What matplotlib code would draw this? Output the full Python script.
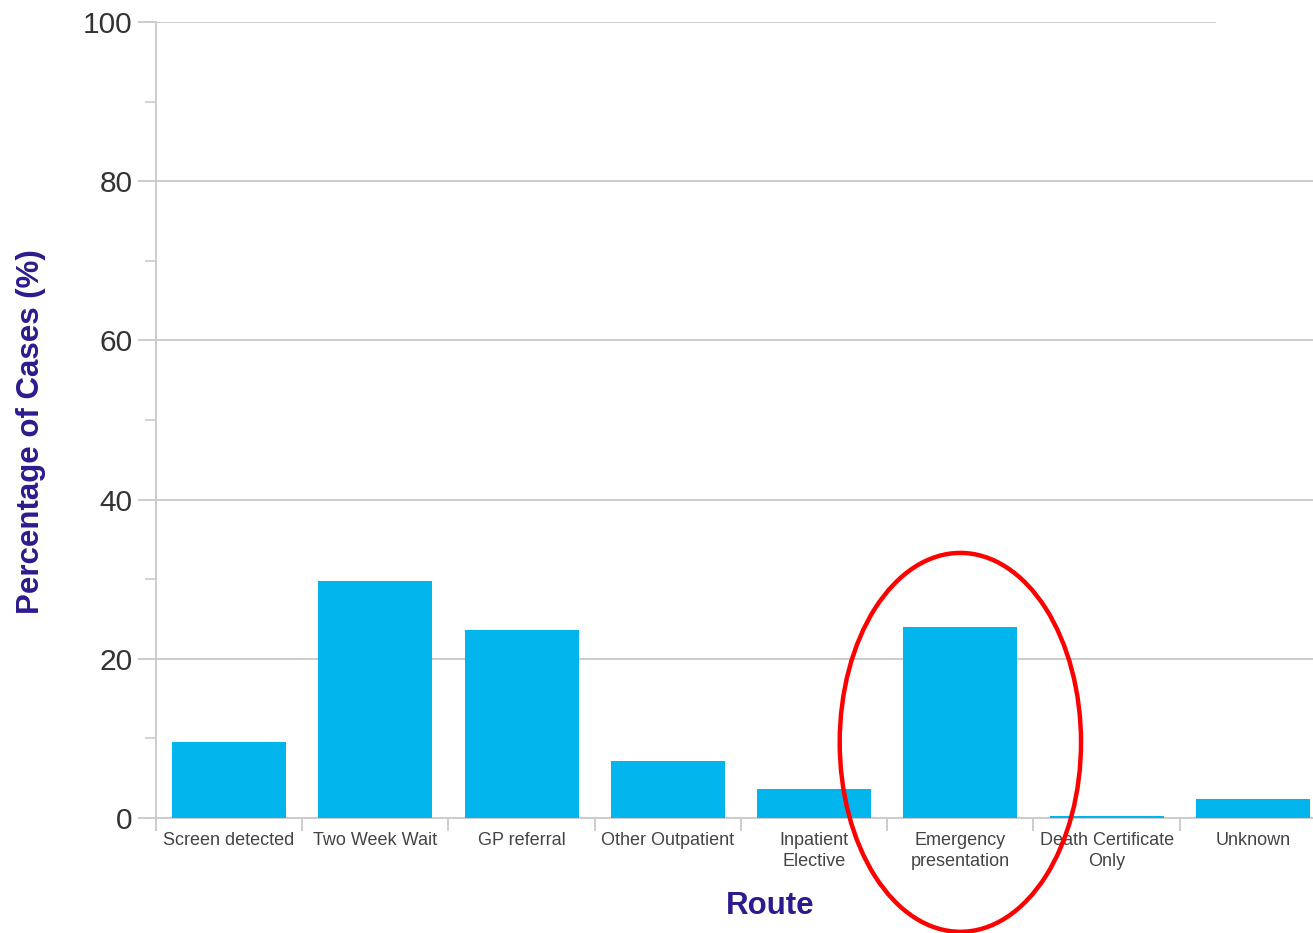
import numpy as np
import matplotlib
matplotlib.use("Agg")
from matplotlib import pyplot as plt
from matplotlib.patches import Ellipse, Rectangle

routes = ["Screen detected", "Two Week Wait", "GP referral", "Other Outpatient",
          "Inpatient\nElective", "Emergency\npresentation", "Death Certificate\nOnly",
          "Unknown"]
pct_cases = [9.5, 29.8, 23.6, 7.2, 3.6, 24.0, 0.3, 2.4]

plt.rcParams["font.family"] = ["Liberation Sans", "DejaVu Sans"]

fig = plt.figure(figsize=(13.13, 9.33), dpi=100)
ax = fig.add_axes([0.1188, 0.1233, 0.8911, 0.8531])

x = np.arange(len(routes))
ax.bar(x, pct_cases, width=0.78, color="#02b5ec", zorder=3)

ax.set_xlim(-0.5, len(routes) - 0.5)
ax.set_ylim(0, 100)

# y axis: labelled majors with grid, unlabelled minors
ax.set_yticks(np.arange(0, 101, 20))
ax.set_yticks(np.arange(10, 100, 20), minor=True)
ax.grid(axis="y", which="major", color="#cccccc", linewidth=1.4, zorder=0)
ax.tick_params(axis="y", which="major", length=13, width=1.4, color="#cccccc",
               labelsize=21.5, labelcolor="#333333", pad=4)
ax.tick_params(axis="y", which="minor", length=8, width=1.2, color="#cccccc")

# x axis: separators between categories, labels at centres
ax.set_xticks(np.arange(-0.5, len(routes), 1.0))
ax.set_xticklabels([])
ax.set_xticks(x, minor=True)
ax.set_xticklabels(routes, minor=True, fontsize=13, color="#444444",
                   linespacing=1.35, va="top")
ax.tick_params(axis="x", which="major", length=9, width=1.4, color="#cccccc")
ax.tick_params(axis="x", which="minor", length=0, pad=10)

for side in ["top", "right"]:
    ax.spines[side].set_visible(False)
for side in ["left", "bottom"]:
    ax.spines[side].set_color("#cccccc")
    ax.spines[side].set_linewidth(1.4)

ax.set_ylabel("Percentage of Cases (%)", fontsize=22.5, fontweight="bold",
              color="#2d1a8e")
ax.yaxis.set_label_coords(-0.094, 0.486)
fig.text(770 / 1313, 1 - 906 / 933, "Route", fontsize=22.5, fontweight="bold",
         color="#2d1a8e", ha="center", va="center")

# highlight around the emergency presentation bar
ax.add_patch(Ellipse((5.0, 9.5), width=1.65, height=47.6, fill=False,
                     edgecolor="#ff0000", linewidth=3.2, clip_on=False, zorder=5))

# white block over the top-right corner
fig.add_artist(Rectangle((1216 / 1313, 1 - 40 / 933), 0.1, 0.1,
                         transform=fig.transFigure, facecolor="white",
                         edgecolor="none", zorder=6))

fig.savefig("out.png", dpi=100)
